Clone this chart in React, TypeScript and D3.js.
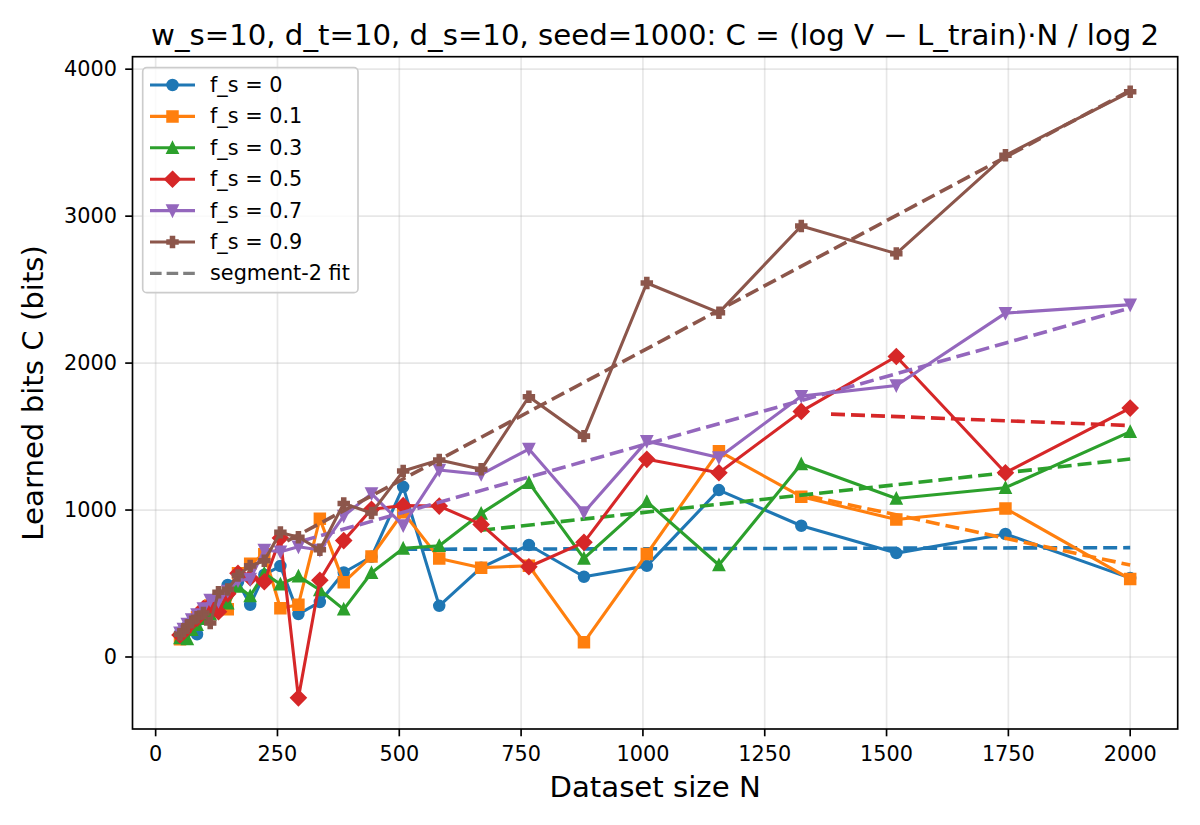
import React from "react";
import * as d3 from "d3";

// Dataset sizes (x)
const N = [50, 57, 65, 74, 85, 98, 112, 129, 148, 169, 194, 223, 256, 293, 337, 386, 443, 508, 582, 668, 766, 879, 1008, 1156, 1325, 1520, 1744, 2000];

// Learned bits per series (y)
const C_fs0 = [160, 180, 210, 235, 155, 290, 345, 410, 490, 510, 355, 560, 619, 292, 374, 575, 682, 1158, 348, 608, 762, 546, 620, 1136, 893, 707, 837, 537];
const C_fs01 = [120, 150, 185, 220, 270, 300, 350, 390, 325, 570, 635, 700, 331, 356, 940, 508, 684, 985, 671, 608, 621, 100, 701, 1401, 1091, 936, 1011, 530];
const C_fs03 = [130, 140, 122, 185, 220, 260, 290, 345, 365, 480, 415, 569, 495, 550, 456, 324, 573, 739, 757, 977, 1186, 671, 1057, 626, 1313, 1079, 1152, 1533];
const C_fs05 = [150, 172, 205, 240, 265, 330, 355, 308, 430, 570, 540, 512, 810, -278, 522, 792, 1005, 1030, 1027, 902, 614, 780, 1345, 1254, 1671, 2045, 1254, 1694];
const C_fs07 = [165, 190, 225, 255, 290, 330, 388, 380, 450, 520, 530, 728, 716, 750, 728, 960, 1112, 895, 1272, 1243, 1415, 984, 1469, 1358, 1775, 1848, 2340, 2397];
const C_fs09 = [155, 175, 213, 240, 270, 300, 232, 440, 460, 555, 620, 655, 848, 815, 730, 1045, 980, 1265, 1340, 1277, 1771, 1503, 2545, 2343, 2933, 2745, 3414, 3846];

// Segment-2 fit lines (start/end)
const fitN0 = [508, 1340, 668, 1386, 300, 270];
const fitC0 = [733, 1095, 862, 1653, 790, 790];
const fitN1 = [2000, 2000, 2000, 2000, 2000, 2000];
const fitC1 = [744, 626, 1347, 1575, 2375, 3855];

const seriesLabels = ["f_s = 0", "f_s = 0.1", "f_s = 0.3", "f_s = 0.5", "f_s = 0.7", "f_s = 0.9"];
const seriesValues = [C_fs0, C_fs01, C_fs03, C_fs05, C_fs07, C_fs09];
const colors = ["#1f77b4", "#ff7f0e", "#2ca02c", "#d62728", "#9467bd", "#8c564b"];
const markerShapes = ["o", "s", "^", "D", "v", "P"];

const xTicks = [0, 250, 500, 750, 1000, 1250, 1500, 1750, 2000];
const yTicks = [0, 1000, 2000, 3000, 4000];

const W = 1200;
const H = 825;
const L = 132.5, R = 1177.7, T = 56.7, B = 729;
const FONT = "DejaVu Sans, sans-serif";

const MS = 10.4; // marker size px
const MEW = 2.08;

function markerPath(shape: string, s: number): string {
  const h = s / 2;
  switch (shape) {
    case "s":
      return `M${-h},${-h}H${h}V${h}H${-h}Z`;
    case "^":
      return `M0,${-h}L${h},${h}L${-h},${h}Z`;
    case "v":
      return `M0,${h}L${h},${-h}L${-h},${-h}Z`;
    case "D": {
      const d = s / Math.SQRT2;
      return `M0,${-d}L${d},0L0,${d}L${-d},0Z`;
    }
    case "P": {
      const pts = [[-1, -3], [1, -3], [1, -1], [3, -1], [3, 1], [1, 1], [1, 3], [-1, 3], [-1, 1], [-3, 1], [-3, -1], [-1, -1]];
      return "M" + pts.map((p) => `${(p[0] / 6) * s},${(p[1] / 6) * s}`).join("L") + "Z";
    }
    default:
      return "";
  }
}

function Marker({ shape, x, y, color }: { shape: string; x: number; y: number; color: string }) {
  if (shape === "o") {
    return <circle cx={x} cy={y} r={MS / 2} fill={color} stroke={color} strokeWidth={MEW} />;
  }
  return (
    <path
      d={markerPath(shape, MS)}
      transform={`translate(${x},${y})`}
      fill={color}
      stroke={color}
      strokeWidth={MEW}
      strokeLinejoin="miter"
    />
  );
}

export default function App() {
  const x = d3.scaleLinear().domain([-47.5, 2097.5]).range([L, R]);
  const y = d3.scaleLinear().domain([-490, 4085]).range([B, T]);
  const line = d3
    .line<[number, number]>()
    .x((d) => x(d[0]))
    .y((d) => y(d[1]));

  const legendY0 = 85;
  const legendDY = 31.4;

  return (
    <div style={{ position: "absolute", left: 0, top: 0 }}>
      <svg width={W} height={H} viewBox={`0 0 ${W} ${H}`} style={{ display: "block", background: "#fff" }}>
        <rect x={0} y={0} width={W} height={H} fill="#fff" />
        <defs>
          <clipPath id="plotclip">
            <rect x={L} y={T} width={R - L} height={B - T} />
          </clipPath>
        </defs>
        {/* grid */}
        <g stroke="#b0b0b0" strokeOpacity={0.3} strokeWidth={1.67}>
          {xTicks.map((t) => (
            <line key={"gx" + t} x1={x(t)} x2={x(t)} y1={T} y2={B} />
          ))}
          {yTicks.map((t) => (
            <line key={"gy" + t} x1={L} x2={R} y1={y(t)} y2={y(t)} />
          ))}
        </g>

        {/* series */}
        <g clipPath="url(#plotclip)">
          {seriesValues.map((vals, si) => {
            const pts: [number, number][] = N.map((n, i) => [n, vals[i]]);
            const fit: [number, number][] = [
              [fitN0[si], fitC0[si]],
              [fitN1[si], fitC1[si]],
            ];
            return (
              <g key={"s" + si}>
                <path d={line(pts) || ""} fill="none" stroke={colors[si]} strokeWidth={3.1} strokeLinejoin="round" strokeLinecap="square" />
                {pts.map((p, i) => (
                  <Marker key={i} shape={markerShapes[si]} x={x(p[0])} y={y(p[1])} color={colors[si]} />
                ))}
                <path d={line(fit) || ""} fill="none" stroke={colors[si]} strokeWidth={3.6} strokeDasharray="14,6" />
              </g>
            );
          })}
        </g>

        {/* spines */}
        <rect x={L} y={T} width={R - L} height={B - T} fill="none" stroke="#000" strokeWidth={1.67} />

        {/* ticks */}
        <g stroke="#000" strokeWidth={1.67}>
          {xTicks.map((t) => (
            <line key={"tx" + t} x1={x(t)} x2={x(t)} y1={B} y2={B + 7.3} />
          ))}
          {yTicks.map((t) => (
            <line key={"ty" + t} x1={L} x2={L - 7.3} y1={y(t)} y2={y(t)} />
          ))}
        </g>
        <g fontFamily={FONT} fontSize={20.8} fill="#000">
          {xTicks.map((t) => (
            <text key={"lx" + t} x={x(t)} y={761} textAnchor="middle">
              {t}
            </text>
          ))}
          {yTicks.map((t) => (
            <text key={"ly" + t} x={117} y={y(t)} textAnchor="end" dominantBaseline="central">
              {t}
            </text>
          ))}
        </g>

        {/* axis labels */}
        <text x={(L + R) / 2} y={797} textAnchor="middle" fontFamily={FONT} fontSize={29.2} fill="#000">
          Dataset size N
        </text>
        <text transform={`translate(43,${(T + B) / 2}) rotate(-90)`} textAnchor="middle" fontFamily={FONT} fontSize={29.2} fill="#000">
          Learned bits C (bits)
        </text>

        {/* title */}
        <text x={(L + R) / 2} y={45} textAnchor="middle" fontFamily={FONT} fontSize={29.2} fill="#000">
          w_s=10, d_t=10, d_s=10, seed=1000: C = (log V − L_train)·N / log 2
        </text>

        {/* legend */}
        <g>
          <rect x={142.7} y={67.7} width={215.3} height={225} rx={4} ry={4} fill="#fff" fillOpacity={0.8} stroke="#cccccc" strokeWidth={1.67} />
          {seriesLabels.map((lab, i) => {
            const ly = legendY0 + i * legendDY;
            return (
              <g key={"lg" + i}>
                <line x1={150} x2={195} y1={ly} y2={ly} stroke={colors[i]} strokeWidth={3.1} />
                <Marker shape={markerShapes[i]} x={172.5} y={ly} color={colors[i]} />
                <text x={210} y={ly} dominantBaseline="central" fontFamily={FONT} fontSize={20.8} fill="#000">
                  {lab}
                </text>
              </g>
            );
          })}
          <line
            x1={150}
            x2={195}
            y1={legendY0 + 6 * legendDY}
            y2={legendY0 + 6 * legendDY}
            stroke="#7f7f7f"
            strokeWidth={3.1}
            strokeDasharray="11.6,5"
          />
          <text x={210} y={legendY0 + 6 * legendDY} dominantBaseline="central" fontFamily={FONT} fontSize={20.8} fill="#000">
            segment-2 fit
          </text>
        </g>
      </svg>
    </div>
  );
}
